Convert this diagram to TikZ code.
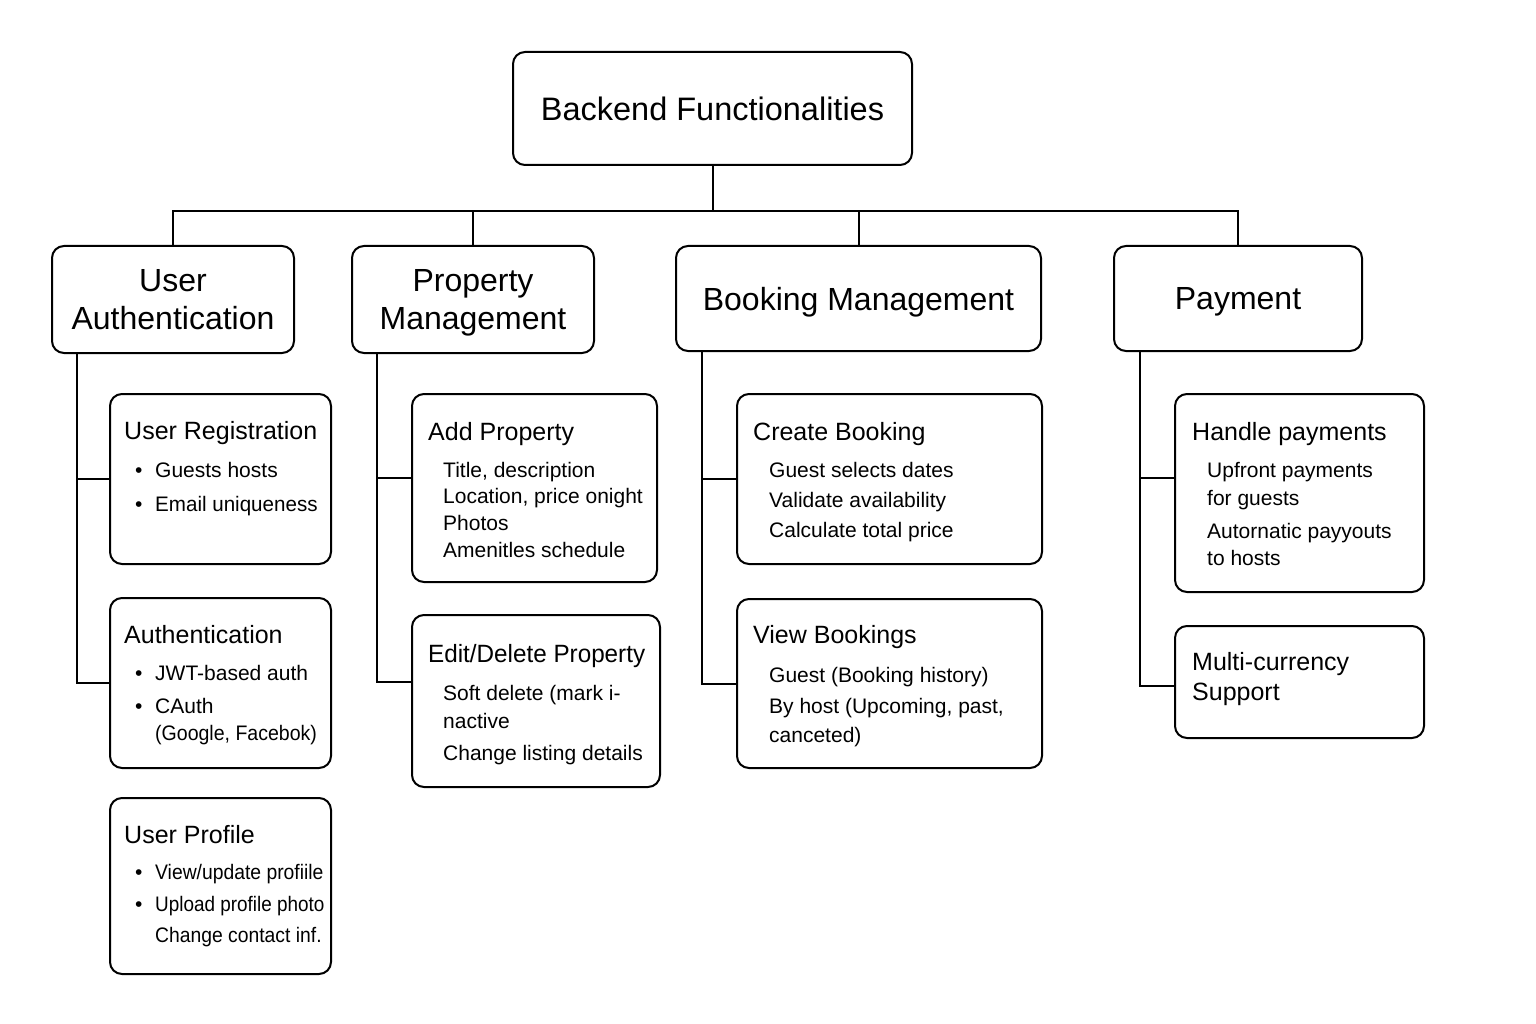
\documentclass[tikz,border=0pt]{standalone}
\usepackage{fontspec}
\setmainfont{Liberation Sans}
\newcommand{\bul}{\llap{\makebox[20pt][l]{\textbullet}}}
\newcommand{\narrow}[2]{\scalebox{#1}[1]{#2}}
\begin{document}
\begin{tikzpicture}[x=1pt,y=-1pt,
  box/.style={draw, line width=2pt, rounded corners=12pt, inner sep=0pt},
  cat/.style={box, font=\fontsize{32}{38}\selectfont, align=center, text depth=0pt},
  sub/.style={box, anchor=north west},
  ttl/.style={anchor=base west, inner sep=0pt, font=\fontsize{25}{30}\selectfont},
  itm/.style={anchor=base west, inner sep=0pt, font=\fontsize{21}{26}\selectfont},
  link/.style={line width=2pt}]
\useasboundingbox[fill=white] (0,0) rectangle (1536,1024);

% root and categories
\node[box, minimum width=399pt, minimum height=113pt, font=\fontsize{32.5}{38}\selectfont, text depth=0pt] (root) at (712.5,108.5) {Backend Functionalities};
\node[cat, minimum width=242pt, minimum height=107pt] (ua) at (173,299.5) {User\\Authentication};
\node[cat, minimum width=242pt, minimum height=107pt] (pm) at (473,299.5) {Property\\Management};
\node[cat, minimum width=365pt, minimum height=105pt] (bm) at (858.5,298.5) {Booking Management};
\node[cat, minimum width=248pt, minimum height=105pt] (pay) at (1238,298.5) {Payment};

% sub boxes
\node[sub, minimum width=221pt, minimum height=170pt] (ureg) at (109,393) {};
\node[sub, minimum width=221pt, minimum height=170pt] (auth) at (109,597) {};
\node[sub, minimum width=221pt, minimum height=176pt] (uprof) at (109,797) {};
\node[sub, minimum width=245pt, minimum height=188pt] (addp) at (411,393) {};
\node[sub, minimum width=248pt, minimum height=172pt] (edp) at (411,614) {};
\node[sub, minimum width=305pt, minimum height=170pt] (cb) at (736,393) {};
\node[sub, minimum width=305pt, minimum height=169pt] (view) at (736,598) {};
\node[sub, minimum width=249pt, minimum height=198pt] (hp) at (1174,393) {};
\node[sub, minimum width=249pt, minimum height=112pt] (mc) at (1174,625) {};

% texts: User Registration
\node[ttl] (ureg-t) at (124,439) {User Registration};
\node[itm] (ureg-1) at (155,477) {\bul Guests hosts};
\node[itm] (ureg-2) at (155,511) {\bul \narrow{0.98}{Email uniqueness}};
% Authentication
\node[ttl] (auth-t) at (124,643) {Authentication};
\node[itm] (auth-1) at (155,680) {\bul JWT-based auth};
\node[itm] (auth-2) at (155,713) {\bul CAuth};
\node[itm] (auth-3) at (155,740) {\narrow{0.93}{(Google, Facebok)}};
% User Profile
\node[ttl] (uprof-t) at (124,843) {User Profile};
\node[itm] (uprof-1) at (155,879) {\bul \narrow{0.92}{View/update profiile}};
\node[itm] (uprof-2) at (155,911) {\bul \narrow{0.90}{Upload profile photo}};
\node[itm] (uprof-3) at (155,942) {\narrow{0.92}{Change contact inf.}};
% Add Property
\node[ttl] (addp-t) at (428,440) {Add Property};
\node[itm] (addp-1) at (443,477) {Title, description};
\node[itm] (addp-2) at (443,503) {Location, price onight};
\node[itm] (addp-3) at (443,530) {Photos};
\node[itm] (addp-4) at (443,557) {Amenitles schedule};
% Edit/Delete Property
\node[ttl] (edp-t) at (428,662) {\narrow{0.97}{Edit/Delete Property}};
\node[itm] (edp-1) at (443,700) {Soft delete (mark i-};
\node[itm] (edp-2) at (443,728) {nactive};
\node[itm] (edp-3) at (443,760) {Change listing details};
% Create Booking
\node[ttl] (cb-t) at (753,440) {Create Booking};
\node[itm] (cb-1) at (769,477) {Guest selects dates};
\node[itm] (cb-2) at (769,507) {Validate availability};
\node[itm] (cb-3) at (769,537) {Calculate total price};
% View Bookings
\node[ttl] (view-t) at (753,643) {View Bookings};
\node[itm] (view-1) at (769,682) {Guest (Booking history)};
\node[itm] (view-2) at (769,713) {By host (Upcoming, past,};
\node[itm] (view-3) at (769,742) {canceted)};
% Handle payments
\node[ttl] (hp-t) at (1192,440) {Handle payments};
\node[itm] (hp-1) at (1207,477) {Upfront payments};
\node[itm] (hp-2) at (1207,505) {for guests};
\node[itm] (hp-3) at (1207,538) {Autornatic payyouts};
\node[itm] (hp-4) at (1207,565) {to hosts};
% Multi-currency
\node[ttl] (mc-t1) at (1192,670) {Multi-currency};
\node[ttl] (mc-t2) at (1192,700) {Support};

% top connectors
\coordinate (bus) at (0,211);
\draw[link] (root.south) -- (root.south |- bus);
\draw[link] (ua.north) |- (bus -| pay.north) -- (pay.north);
\draw[link] (pm.north) -- (pm.north |- bus);
\draw[link] (bm.north) -- (bm.north |- bus);

% branch connectors
\coordinate (uax) at ([xshift=26pt]ua.south west);
\draw[link] (uax) |- (auth.west);
\draw[link] (uax |- ureg.west) -- (ureg.west);

\coordinate (pmx) at ([xshift=26pt]pm.south west);
\coordinate (addpin) at ([yshift=-85pt]addp.north west);
\coordinate (edpin) at ([yshift=-68pt]edp.north west);
\draw[link] (pmx) |- (edpin);
\draw[link] (pmx |- addpin) -- (addpin);

\coordinate (bmx) at ([xshift=27pt]bm.south west);
\draw[link] (bmx) |- (view.west);
\draw[link] (bmx |- cb.west) -- (cb.west);

\coordinate (payx) at ([xshift=27pt]pay.south west);
\coordinate (hpin) at ([yshift=-85pt]hp.north west);
\coordinate (mcin) at ([yshift=-61pt]mc.north west);
\draw[link] (payx) |- (mcin);
\draw[link] (payx |- hpin) -- (hpin);
\end{tikzpicture}
\end{document}
